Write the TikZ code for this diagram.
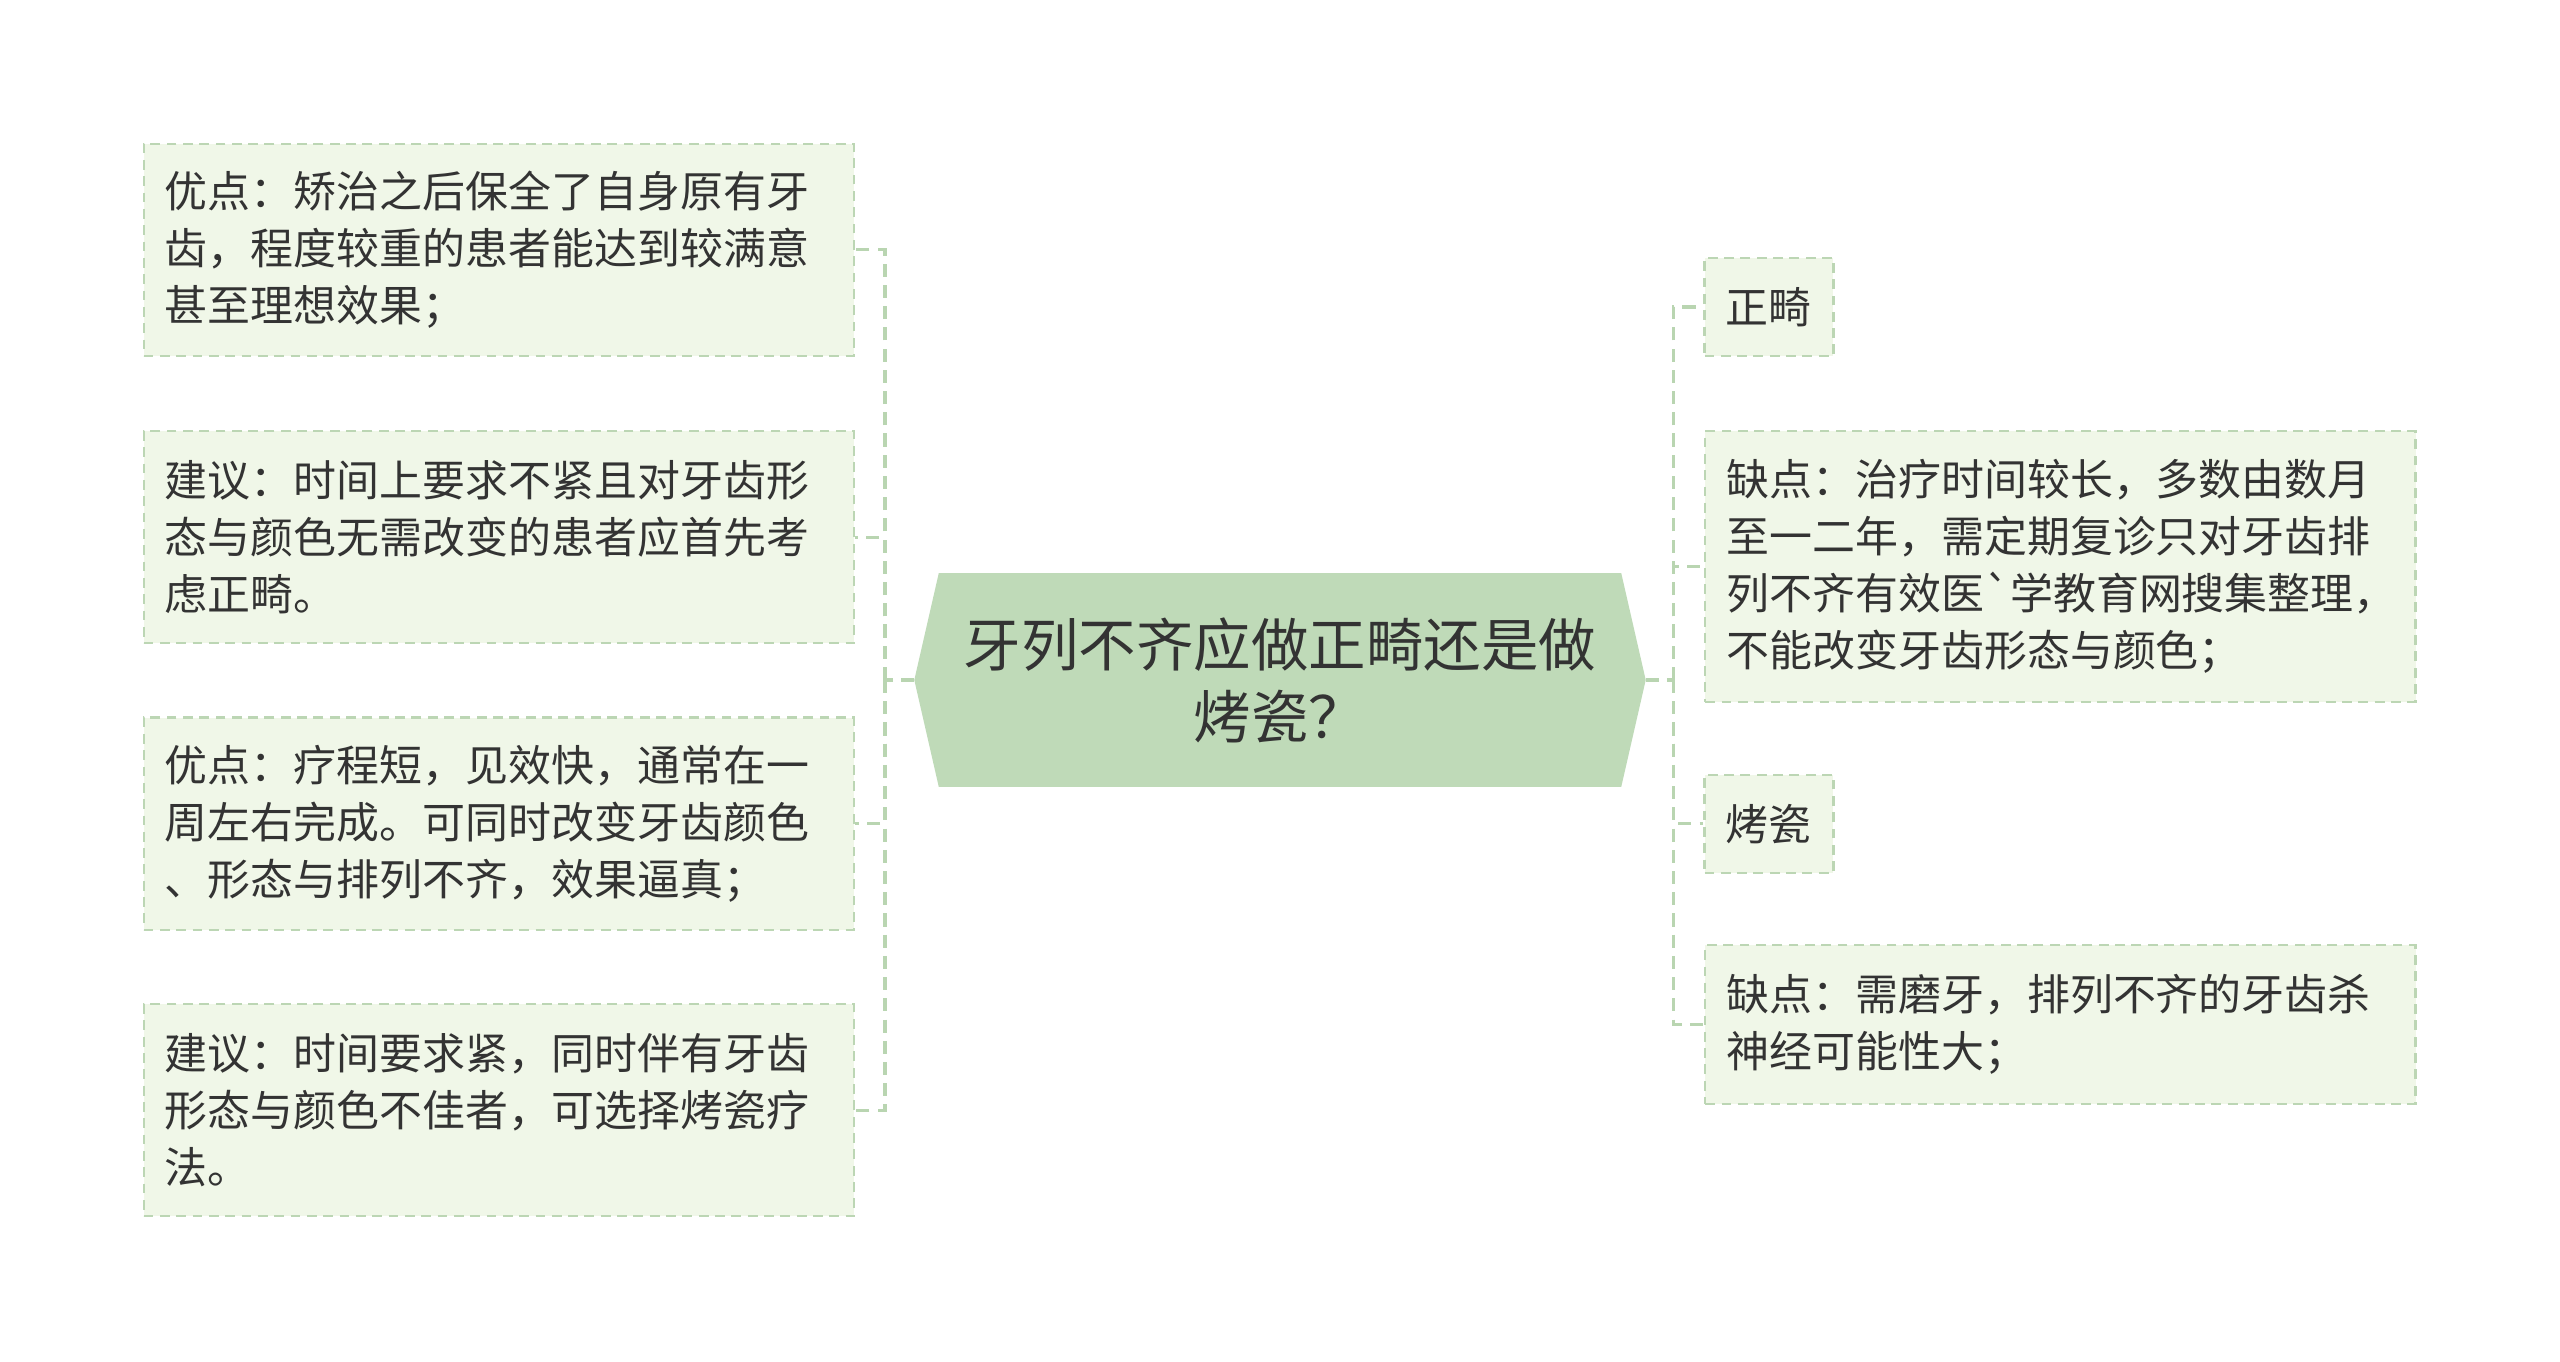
\documentclass[tikz,border=0pt]{standalone}
\usepackage{fontspec}
\setmainfont{Noto Sans CJK SC}
\usepackage{xcolor}
\usepackage{tikz}
\usetikzlibrary{backgrounds}
\definecolor{rootfill}{HTML}{BFDAB8}
\definecolor{boxfill}{HTML}{F0F7E8}
\definecolor{boxline}{HTML}{BCD6B4}
\definecolor{linkline}{HTML}{B9D5B1}
\definecolor{inkgray}{HTML}{333333}

\begin{document}
\begin{tikzpicture}[x=0.5pt, y=-0.5pt,
  every node/.style={text=inkgray, font=\fontsize{13.15pt}{17.5pt}\selectfont},
  leaf/.style={rectangle, draw=boxline, dash pattern=on 3pt off 2pt, line width=0.7pt, fill=boxfill, align=left, inner xsep=6.5pt, inner ysep=0pt},
  wide/.style={leaf, text width=204.5pt},
  small/.style={leaf, text width=26.5pt, minimum height=30pt},
  root/.style={rectangle, minimum width=224pt, minimum height=65.5pt, inner sep=0pt, outer sep=0pt, align=center, font=\fontsize{17.6pt}{22pt}\selectfont},
  link/.style={draw=linkline, line width=1pt, dash pattern=on 4pt off 2.5pt}]
			\useasboundingbox (0,0) rectangle (1568,834);
			% Nodes
			\node[root] (0) at (784,416.5) {牙列不齐应做正畸还是做\\烤瓷？};
			\node[wide, minimum height=65pt] (1) at (305.5,153) {优点：矫治之后保全了自身原有牙\\齿，程度较重的患者能达到较满意\\甚至理想效果；};
			\node[wide, minimum height=65pt] (2) at (305.5,329) {建议：时间上要求不紧且对牙齿形\\态与颜色无需改变的患者应首先考\\虑正畸。};
			\node[wide, minimum height=65pt] (3) at (305.5,504.5) {优点：疗程短，见效快，通常在一\\周左右完成。可同时改变牙齿颜色\\、形态与排列不齐，效果逼真；};
			\node[wide, minimum height=65pt] (4) at (305.5,680) {建议：时间要求紧，同时伴有牙齿\\形态与颜色不佳者，可选择烤瓷疗\\法。};
			\node[small] (5) at (1083.5,188) {正畸};
			\node[wide, minimum height=83pt] (6) at (1262,347) {缺点：治疗时间较长，多数由数月\\至一二年，需定期复诊只对牙齿排\\列不齐有效医\textasciigrave 学教育网搜集整理，\\不能改变牙齿形态与颜色；};
			\node[small] (7) at (1083.5,504.5) {烤瓷};
			\node[wide, minimum height=48.5pt] (8) at (1262,627.5) {缺点：需磨牙，排列不齐的牙齿杀\\神经可能性大；};
			% Hexagon behind the root
			\begin{scope}[on background layer]
				\fill[rootfill] (0.west) -- ([xshift=7.5pt]0.north west) -- ([xshift=-7.5pt]0.north east) -- (0.east) -- ([xshift=-7.5pt]0.south east) -- ([xshift=7.5pt]0.south west) -- cycle;
			\end{scope}
			% Edges
			\coordinate (l) at (542,416.5);
			\coordinate (r) at (1025,416.5);
			\draw[link] (0.west) -- (l);
			\draw[link] (0.east) -- (r);
			\foreach \n in {1,...,4} \draw[link] (l) |- (\n.east);
			\foreach \n in {5,...,8} \draw[link] (r) |- (\n.west);
		\end{tikzpicture}
\end{document}
